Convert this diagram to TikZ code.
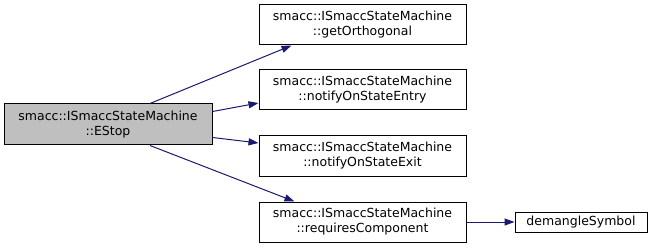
\documentclass[tikz,border=0pt]{standalone}
\usepackage{fontspec}
\setmainfont{DejaVu Sans}
\usetikzlibrary{arrows.meta,calc}
\definecolor{edgeblue}{HTML}{191970}
\definecolor{nodegray}{HTML}{BFBFBF}
\begin{document}
\begin{tikzpicture}[x=1pt,y=-1pt,
  fn/.style={draw=black,line width=1pt,fill=white,inner sep=0pt,align=center,
    font=\fontsize{12.5}{15}\selectfont,minimum width=207pt,minimum height=40pt},
  call/.style={draw=edgeblue,line width=1pt,
    -{Triangle[length=10pt,width=7pt,fill=edgeblue]}}]
\useasboundingbox (0,0) rectangle (655,248);
% caller
\node[fn,fill=nodegray,minimum width=208pt,minimum height=41pt] (estop) at (108,124.5)
  {smacc::ISmaccStateMachine\\::EStop};
% callees
\node[fn] (orth)  at (362.5,25)  {smacc::ISmaccStateMachine\\::getOrthogonal};
\node[fn] (entry) at (362.5,90)  {smacc::ISmaccStateMachine\\::notifyOnStateEntry};
\node[fn] (exit)  at (362.5,156) {smacc::ISmaccStateMachine\\::notifyOnStateExit};
\node[fn] (req)   at (362.5,222) {smacc::ISmaccStateMachine\\::requiresComponent};
\node[fn,minimum width=132pt,minimum height=20pt] (dem) at (581,222) {demangleSymbol};
% call edges
\draw[call] ($(estop.north)+(42,0)$) -- ($(orth.south)+(-71,0)$);
\draw[call] ($(estop.east)+(0,-13)$) -- ($(entry.west)+(0,13)$);
\draw[call] ($(estop.east)+(0,13)$) -- ($(exit.west)+(0,-13)$);
\draw[call] ($(estop.south)+(42,0)$) -- ($(req.north)+(-68,0)$);
\draw[call] (req.east) -- (dem.west);
\end{tikzpicture}
\end{document}
